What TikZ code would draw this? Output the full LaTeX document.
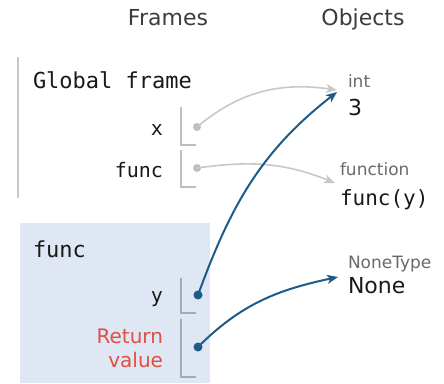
\documentclass[tikz,border=0pt]{standalone}
\usepackage{fontspec}
\setmainfont{DejaVu Sans}
\setmonofont{DejaVu Sans Mono}
\usetikzlibrary{arrows.meta}
\definecolor{hdr}{RGB}{60,60,60}
\definecolor{txt}{RGB}{25,25,25}
\definecolor{typ}{RGB}{105,105,105}
\definecolor{gline}{RGB}{200,200,200}
\definecolor{cellg}{RGB}{190,190,190}
\definecolor{cellb}{RGB}{160,170,185}
\definecolor{bluearr}{RGB}{28,92,138}
\definecolor{retred}{RGB}{226,78,66}
\definecolor{framefill}{RGB}{222,231,243}
\tikzset{
  lbl/.style={inner sep=0pt, outer sep=0pt},
  hdrtext/.style={lbl, text=hdr, font=\fontsize{22}{26}\selectfont, anchor=base},
  monotext/.style={lbl, text=txt, font=\ttfamily\fontsize{22}{26}\selectfont, anchor=base west},
  vartext/.style={lbl, text=txt, font=\ttfamily\fontsize{20}{24}\selectfont, anchor=base east},
  rettext/.style={lbl, text=retred, font=\fontsize{20}{24}\selectfont, anchor=base east},
  typetext/.style={lbl, text=typ, font=\fontsize{17}{20}\selectfont, anchor=base west},
  valtext/.style={lbl, text=txt, font=\fontsize{22}{26}\selectfont, anchor=base west},
  valmono/.style={lbl, text=txt, font=\ttfamily\fontsize{21}{25}\selectfont, anchor=base west},
  gdot/.style={circle, fill=cellg, inner sep=0pt, minimum size=8pt},
  bdot/.style={circle, fill=bluearr, inner sep=0pt, minimum size=9pt},
  garrow/.style={draw=gline, line width=1.6pt, -{Stealth[length=11pt,width=9pt,inset=3pt]}},
  barrow/.style={draw=bluearr, line width=2pt, -{Stealth[length=11pt,width=9pt,inset=3pt]}},
  gcell/.style={draw=cellg, line width=1.4pt},
  bcell/.style={draw=cellb, line width=1.4pt},
}
\begin{document}
\begin{tikzpicture}[x=1pt,y=-1pt]
\useasboundingbox (0,0) rectangle (444,383);
% headers
\node[hdrtext] (hframes) at (168,25) {Frames};
\node[hdrtext] (hobjects) at (363,25) {Objects};
% global frame
\draw[draw=gline, line width=1.6pt] (18,57) -- (18,198);
\node[monotext] (gf) at (33,88) {Global frame};
\node[vartext] (vx) at (163,135) {x};
\node[vartext] (vfunc) at (163,177) {func};
\draw[gcell] (181,107) -- (181,145) -- (196,145);
\draw[gcell] (181,150) -- (181,187) -- (196,187);
% func frame
\fill[framefill] (20,223) rectangle (210,383);
\node[monotext] (ff) at (33,257) {func};
\node[vartext] (vy) at (163,302) {y};
\node[rettext] (ret1) at (163,343) {Return};
\node[rettext] (ret2) at (163,367) {value};
\draw[bcell] (181,278) -- (181,313) -- (196,313);
\draw[bcell] (181,319) -- (181,377) -- (196,377);
% objects
\node[typetext] (tint) at (348,87) {int};
\node[valtext] (vthree) at (348,115) {3};
\node[typetext] (tfun) at (340,175) {function};
\node[valmono] (vfun) at (340,205) {func(y)};
\node[typetext] (tnone) at (348,268) {NoneType};
\node[valtext] (vnone) at (348,293) {None};
% arrow targets
\coordinate (e3g) at (337,90);
\coordinate (e3b) at (337,92);
\coordinate (efun) at (335,183);
\coordinate (enone) at (338,277);
% dots
\node[gdot] (dx) at (197,127) {};
\node[gdot] (dfunc) at (197,168) {};
\node[bdot] (dy) at (198,295) {};
\node[bdot] (dret) at (198,347) {};
% arrows
\draw[garrow] (dx.center) to[out=40,in=172] (e3g);
\draw[garrow] (dfunc.center) to[out=8,in=158] (efun);
\draw[barrow] (dy.center) to[out=70,in=218] (e3b);
\draw[barrow] (dret.center) to[out=45,in=192] (enone);
\end{tikzpicture}
\end{document}
